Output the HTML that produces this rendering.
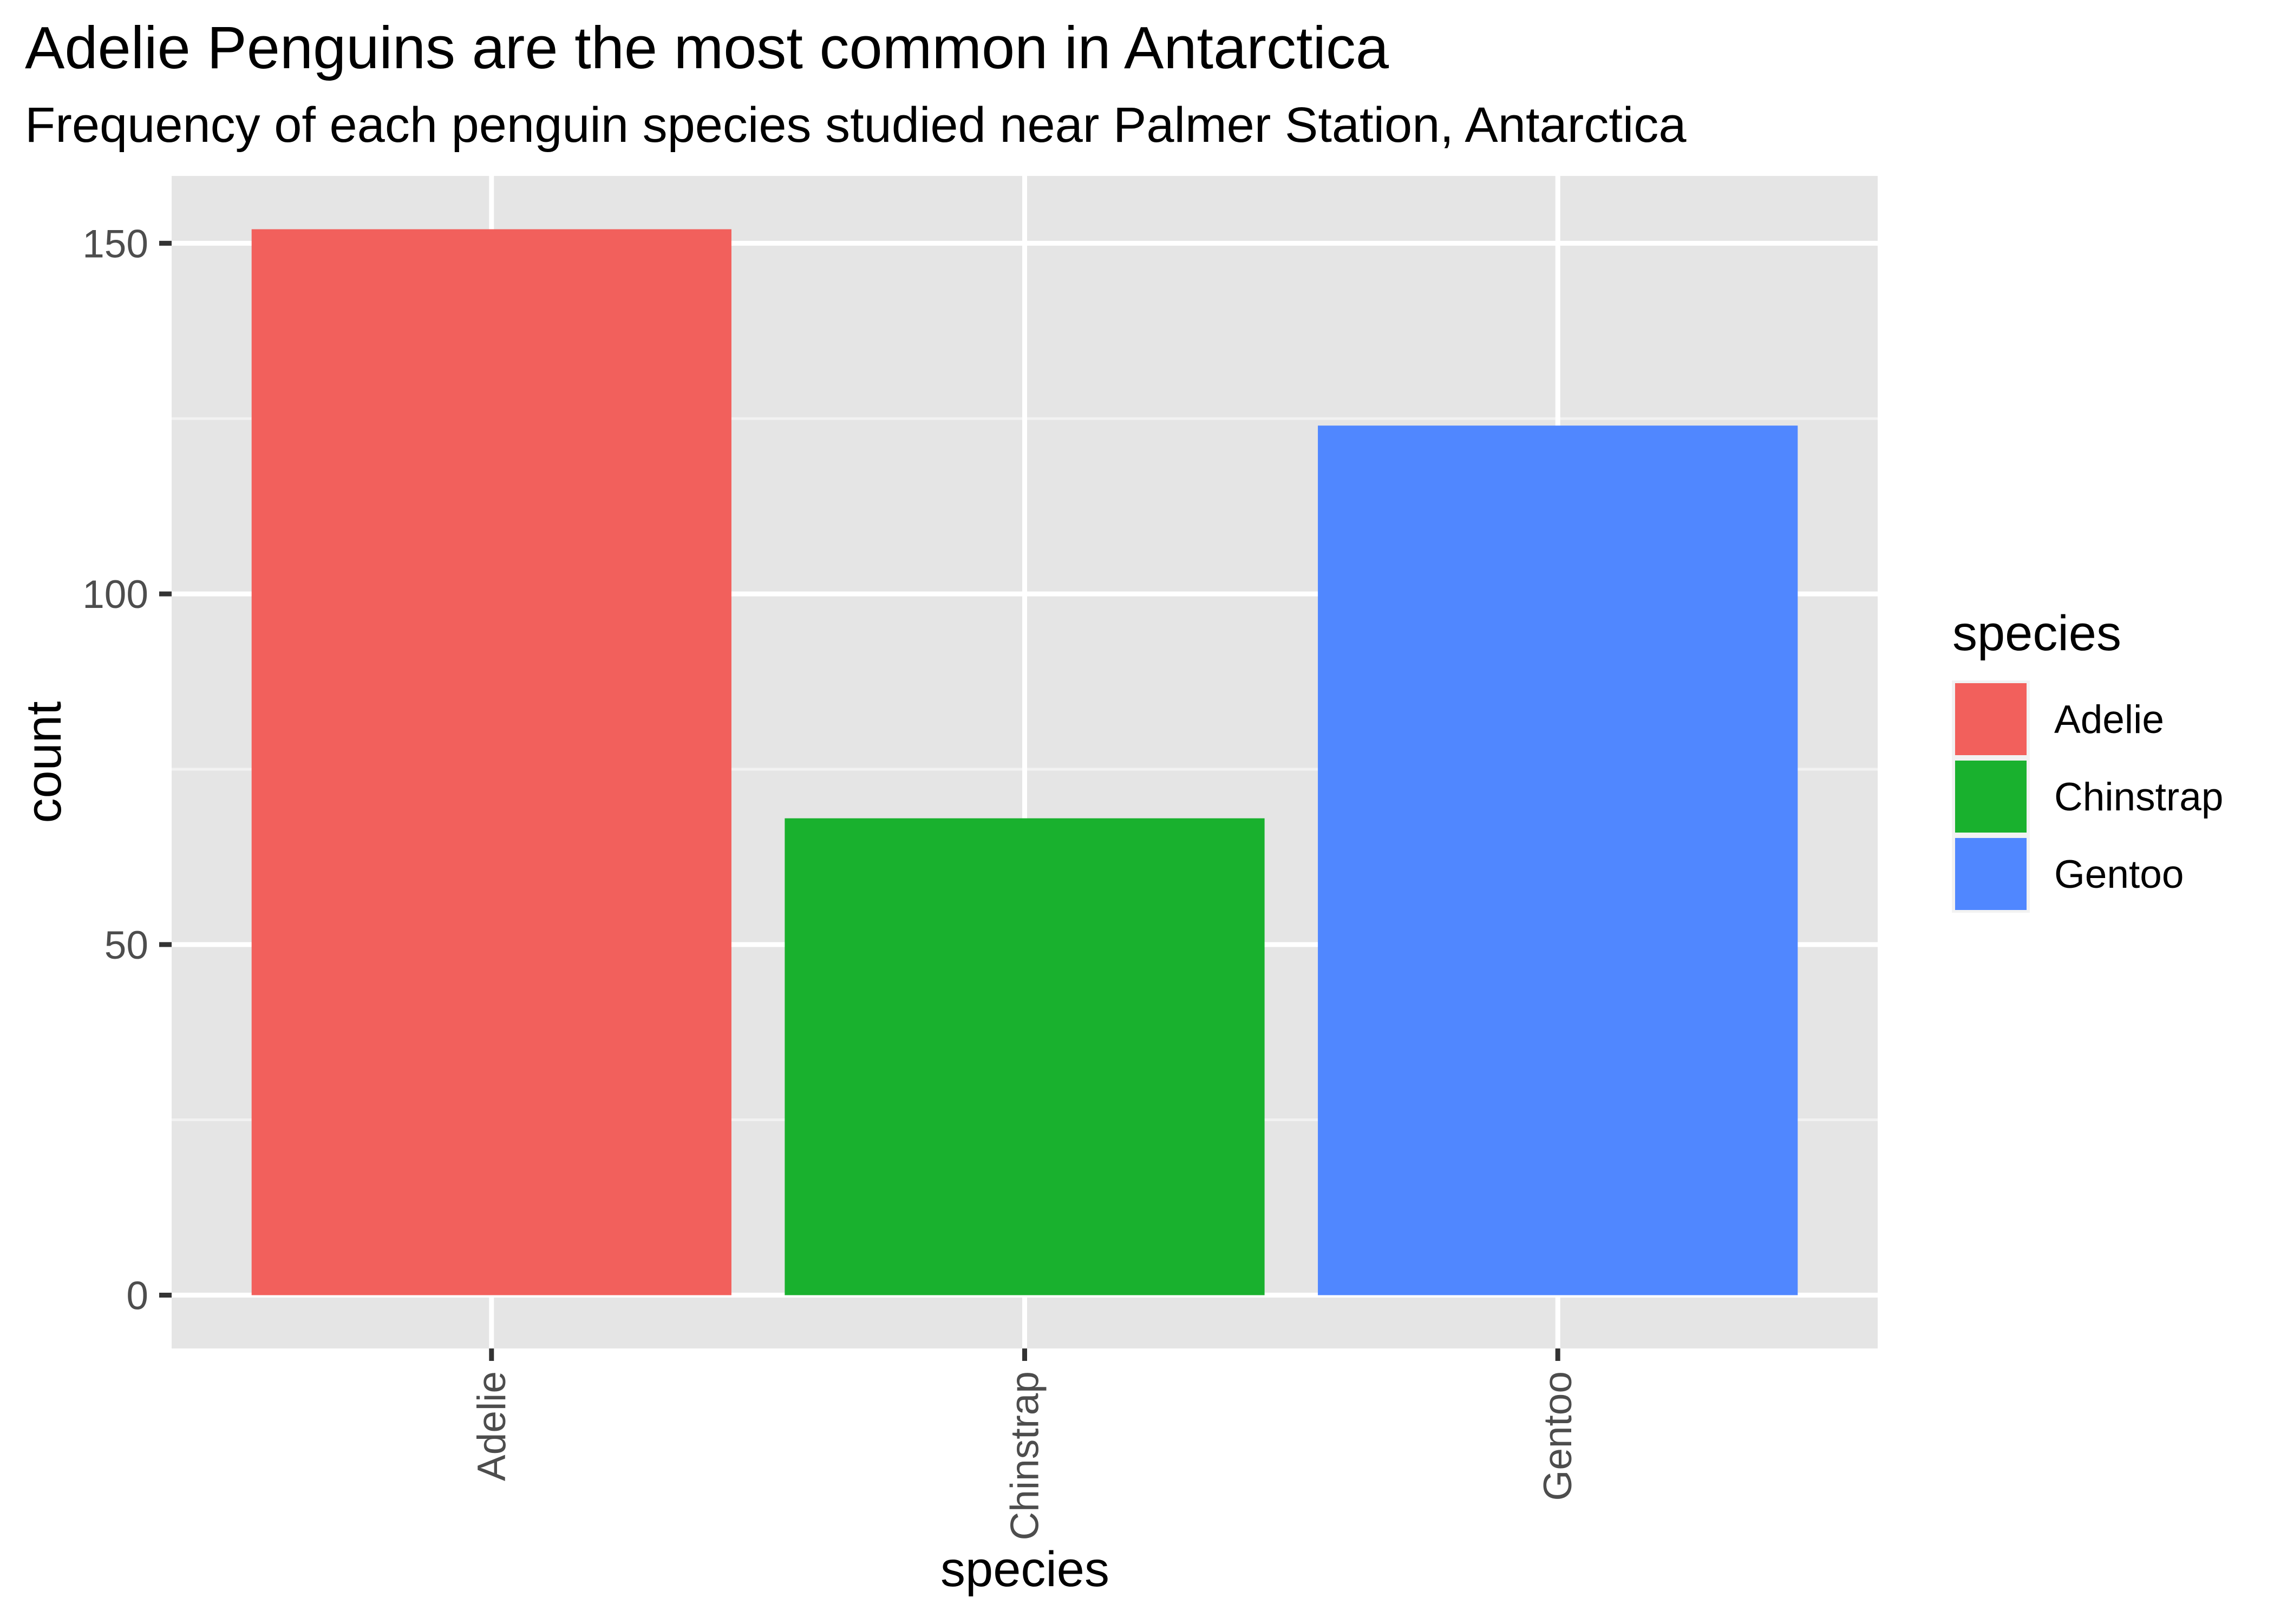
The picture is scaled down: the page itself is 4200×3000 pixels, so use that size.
<!DOCTYPE html>
<html><head><meta charset="utf-8"><style>
html,body{margin:0;padding:0;background:#fff;}
svg{display:block;font-family:"Liberation Sans",Arial,sans-serif;}
</style></head><body>
<svg id="chart" width="4200" height="3000" viewBox="0 0 4200 3000" xmlns="http://www.w3.org/2000/svg">
<rect width="4200" height="3000" fill="#ffffff"/>
<text x="46" y="126" font-size="110" fill="#000">Adelie Penguins are the most common in Antarctica</text>
<text x="46" y="262" font-size="92" fill="#000">Frequency of each penguin species studied near Palmer Station, Antarctica</text>
<rect x="317" y="325" width="3151" height="2166" fill="#e5e5e5"/>
<g id="grid"></g>
<g id="bars"></g>
<g id="axes"></g>
<text x="1893" y="2930" font-size="92" text-anchor="middle" fill="#000">species</text>
<text transform="translate(112,1408) rotate(-90)" font-size="92" text-anchor="middle" fill="#000">count</text>
<g id="legend">
<text x="3606" y="1201" font-size="92" fill="#000">species</text>
</g>
</svg>
<script>
const categories = ["Adelie", "Chinstrap", "Gentoo"];
const counts = [152, 68, 124];
const colors = ["#f2605c", "#19b12e", "#5087ff"];
const yTicks = [0, 50, 100, 150];
const yMinor = [25, 75, 125];

const NS = "http://www.w3.org/2000/svg";
const panelL = 317, panelR = 3468, panelT = 325, panelB = 2491;
const yMin = -0.05 * Math.max(...counts), yMax = Math.max(...counts) * 1.05;
function yScale(v){ return panelB - (v - yMin) / (yMax - yMin) * (panelB - panelT); }
const step = (panelR - panelL) / (categories.length + 0.2);
function xScale(i){ return panelL + step * (0.6 + i); }
function mk(tag, attrs, parent){
  const e = document.createElementNS(NS, tag);
  for (const k in attrs) e.setAttribute(k, attrs[k]);
  parent.appendChild(e);
  return e;
}
const grid = document.getElementById("grid");
const bars = document.getElementById("bars");
const axes = document.getElementById("axes");
const legend = document.getElementById("legend");

yMinor.forEach(v => {
  const l = mk("line", {x1: panelL, x2: panelR, y1: yScale(v), y2: yScale(v), stroke: "#f2f2f2", "stroke-width": 5}, grid);
  
  
});
yTicks.forEach(v => {
  const y = yScale(v);
  const l = mk("line", {x1: panelL, x2: panelR, y1: y, y2: y, stroke: "#ffffff", "stroke-width": 9}, grid);
  
  
  const t = mk("line", {x1: panelL - 23, x2: panelL, y1: y, y2: y, stroke: "#333333", "stroke-width": 9}, axes);
  
  
  const tx = mk("text", {x: panelL - 43, y: y + 26, "font-size": 73, "text-anchor": "end", fill: "#4d4d4d"}, axes);
  tx.textContent = String(v);
  
  
});
categories.forEach((c, i) => {
  const x = xScale(i);
  const l = mk("line", {x1: x, x2: x, y1: panelT, y2: panelB, stroke: "#ffffff", "stroke-width": 9}, grid);
  
  
  const hw = step * 0.45;
  const b = mk("rect", {x: x - hw, y: yScale(counts[i]), width: hw * 2, height: yScale(0) - yScale(counts[i]), fill: colors[i]}, bars);
  
  
  const t = mk("line", {x1: x, x2: x, y1: panelB, y2: panelB + 23, stroke: "#333333", "stroke-width": 9}, axes);
  
  
  const tx = mk("text", {transform: "translate(" + (x + 25) + "," + (panelB + 42) + ") rotate(-90)", "font-size": 73, "text-anchor": "end", fill: "#4d4d4d"}, axes);
  tx.textContent = c;
  
  

  const ky = 1257 + i * 143;
  const kb = mk("rect", {x: 3605, y: ky, width: 144, height: 143, fill: "#f2f2f2"}, legend);
  
  
  const kf = mk("rect", {x: 3611, y: ky + 5, width: 132, height: 133, fill: colors[i]}, legend);
  
  
  const kt = mk("text", {x: 3794, y: ky + 97, "font-size": 73, fill: "#000"}, legend);
  kt.textContent = c;
  
  
});
</script>
</body></html>
